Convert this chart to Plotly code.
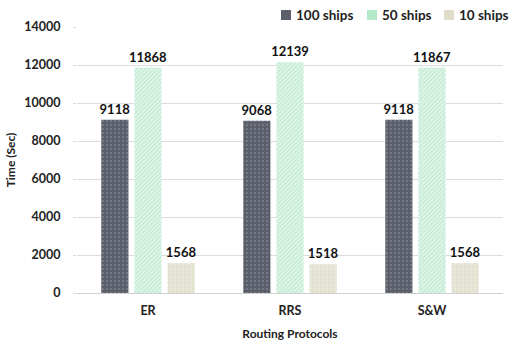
import plotly.graph_objects as go

categories = ["ER", "RRS", "S&W"]
ships100 = [9118, 9068, 9118]
ships50 = [11868, 12139, 11867]
ships10 = [1568, 1518, 1568]
series_names = ["100 ships", "50 ships", "10 ships"]
y_ticks = [0, 2000, 4000, 6000, 8000, 10000, 12000, 14000]

FONT = "Lato"
W, H = 515, 347
ML, MR, MT, MB = 77, 12, 27, 54
PW, PH = W - ML - MR, H - MT - MB

def px(x):
    return (x - ML) / PW

def py(y):
    return (H - MB - y) / PH

fig = go.Figure()
styles = [
    dict(bg="#5b5f6b", fg="#dcdce2", shape=".", size=4, solid=0.12, key="#5b5f6b"),
    dict(bg="#eaf8ef", fg="#9ce0b8", shape="/", size=3, solid=0.6, key="#b3e8c8"),
    dict(bg="#e3e1d0", fg="#f3f2ea", shape=".", size=4, solid=0.25, key="#e0ddca"),
]
for name, vals, st in zip(series_names, [ships100, ships50, ships10], styles):
    fig.add_trace(go.Bar(
        x=categories, y=vals, name=name,
        text=[str(v) for v in vals], textposition="outside",
        textfont=dict(family=FONT, size=13, color="#111111", weight="bold"),
        constraintext="none",
        cliponaxis=False,
        showlegend=False,
        hoverinfo="skip",
        marker=dict(color=st["bg"], line=dict(width=0),
                    pattern=dict(shape=st["shape"], fgcolor=st["fg"], bgcolor=st["bg"],
                                 size=st["size"], solidity=st["solid"], fillmode="overlay")),
    ))

# custom compact legend (keys + labels) in the top-right corner
legend_key_x = [281, 367, 444]
for kx, name, st in zip(legend_key_x, series_names, styles):
    fig.add_shape(type="rect", xref="paper", yref="paper",
                  x0=px(kx), x1=px(kx + 10), y0=py(20), y1=py(10),
                  fillcolor=st["key"], line=dict(width=0))
    fig.add_annotation(xref="paper", yref="paper", x=px(kx + 13), y=py(15),
                       xanchor="left", yanchor="middle", showarrow=False,
                       text=name, font=dict(family=FONT, size=13.5, color="#222222", weight="bold"))

fig.update_layout(
    width=W, height=H,
    barmode="group", bargap=0.3, bargroupgap=0.18,
    uniformtext=dict(minsize=13, mode="show"),
    plot_bgcolor="white", paper_bgcolor="white",
    margin=dict(l=ML, r=MR, t=MT, b=MB, autoexpand=False),
    font=dict(family=FONT, size=12, color="#222222"),
    showlegend=False,
    xaxis=dict(title=dict(text="Routing Protocols", font=dict(family=FONT, size=12, weight="bold"), standoff=12),
               tickfont=dict(family=FONT, size=12.5, weight="bold"),
               showline=True, linecolor="#d0d0d0", linewidth=1, ticks="",
               ticklabelstandoff=6),
    yaxis=dict(title=dict(text="Time (Sec)", font=dict(family=FONT, size=12, weight="bold"), standoff=6),
               range=[0, 14000], tickvals=y_ticks, ticktext=[str(v) for v in y_ticks],
               tickfont=dict(family=FONT, size=12.5, weight="bold"),
               showgrid=True, gridcolor="#dcdcdc", gridwidth=1, zeroline=False,
               ticks="outside", ticklen=3, tickcolor="#dcdcdc",
               ticklabelstandoff=10),
)
fig.write_html("out.html", config={"displayModeBar": False},
               post_script="document.body.style.margin='0';document.body.style.overflow='hidden';")
